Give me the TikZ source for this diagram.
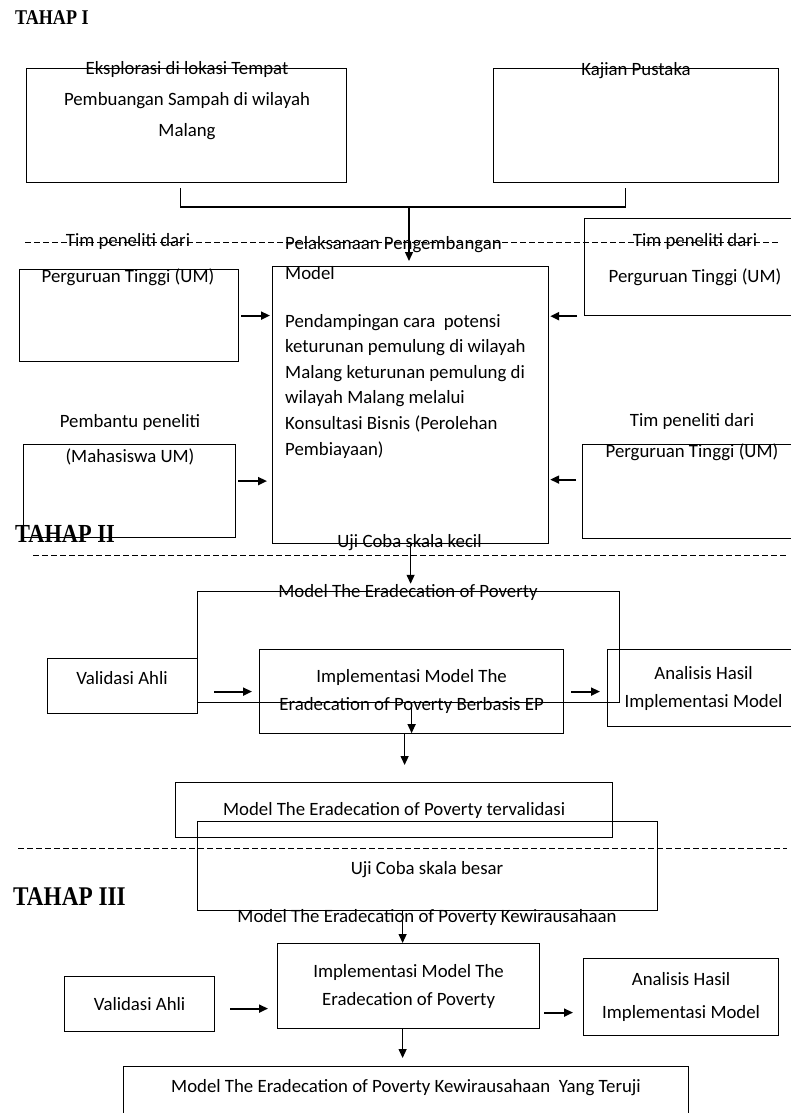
\documentclass[tikz,border=0pt]{standalone}
\usepackage{fontspec}
\usepackage{graphicx}
\setmainfont{Carlito}
\newfontfamily\headfont{Liberation Serif}
\usepackage{tikz}
\usetikzlibrary{arrows.meta,positioning,calc}

\newcommand{\bodyfs}[1]{\fontsize{18.8pt}{#1pt}\selectfont}
\newcommand{\tahap}[2]{\scalebox{0.86}[1]{\headfont\bfseries\fontsize{#1pt}{#1pt}\selectfont #2}}

\begin{document}
\begin{tikzpicture}[
    x=1pt, y=-1pt,
    box/.style={rectangle, draw, line width=1.2pt, inner sep=0pt, anchor=north west, align=center, font=\bodyfs{28}},
    txt/.style={inner sep=0pt, align=center, font=\bodyfs{28}},
    head/.style={inner sep=0pt, anchor=west},
    arrow/.style={-{Triangle[length=9pt,width=8pt]}, line width=1.3pt},
    harrow/.style={arrow, line width=2pt},
    sep/.style={dash pattern=on 6pt off 3pt, line width=1pt}
]
\useasboundingbox (0,0) rectangle (791,1113);
\clip (0,0) rectangle (791,1113);

% Tahap I
\node[head] (tahapi) at (15,18) {\tahap{21}{TAHAP I}};
\node[box, minimum width=320pt, minimum height=114pt] (explo) at (26,68) {};
\node[txt, font=\bodyfs{31}] (explotxt) at (187,101) {Eksplorasi di lokasi Tempat\\Pembuangan Sampah di wilayah\\Malang};
\node[box, minimum width=285pt, minimum height=114pt] (kajian) at (493,68) {};
\node[txt] (kajiantxt) at (636,71) {Kajian Pustaka};

\draw[sep] (25,242) -- (780,242);

\node[box, minimum width=276pt, minimum height=277pt] (central) at (272,266) {};
\node[txt, align=left, anchor=west, font=\bodyfs{30}] (pelaks) at (285,258) {Pelaksanaan Pengembangan\\Model};
\node[txt, align=left, anchor=west, font=\bodyfs{25.6}] (pendamp) at (285,386) {Pendampingan cara~ potensi\\keturunan pemulung di wilayah\\Malang keturunan pemulung di\\wilayah Malang melalui\\Konsultasi Bisnis (Perolehan\\Pembiayaan)};

\node[box, minimum width=219pt, minimum height=92pt] (lbone) at (19,269) {};
\node[txt, font=\bodyfs{36}] (lbonetxt) at (128,260) {Tim peneliti dari\\Perguruan Tinggi (UM)};
\node[box, minimum width=212pt, minimum height=93pt] (lbtwo) at (23,444) {};
\node[txt, font=\bodyfs{35}] (lbtwotxt) at (130,439.5) {Pembantu peneliti\\(Mahasiswa UM)};
\node[box, minimum width=216pt, minimum height=97pt] (rbone) at (584,218) {};
\node[txt, font=\bodyfs{36}] (rbonetxt) at (695,260) {Tim peneliti dari\\Perguruan Tinggi (UM)};
\node[box, minimum width=218pt, minimum height=94pt] (rbtwo) at (582,444) {};
\node[txt, font=\bodyfs{31}] (rbtwotxt) at (692,437.5) {Tim peneliti dari\\Perguruan Tinggi (UM)};

% Connectors of tahap I
\coordinate (join) at (409,207);
\draw[line width=1.2pt] ([xshift=-6pt,yshift=-5pt]explo.south) |- (join) -| ([xshift=-11pt,yshift=-5pt]kajian.south);
\draw[arrow, shorten >=5pt] (join) -- (join |- central.north);
\draw[harrow, shorten <=2pt, shorten >=2pt] (lbone.east) -- (lbone.east -| central.west);
\draw[harrow, shorten <=2pt, shorten >=5pt] ([yshift=10pt]lbtwo.east) -- ([yshift=10pt]lbtwo.east -| central.west);
\draw[harrow, shorten <=7pt, shorten >=1pt] (rbone.south west) -- (rbone.south west -| central.east);
\draw[harrow, shorten <=6pt, shorten >=1pt] ([yshift=12pt]rbtwo.west) -- ([yshift=12pt]rbtwo.west -| central.east);

% Tahap II
\node[head] (tahapii) at (15,534) {\tahap{26}{TAHAP II}};
\node[txt] (ujikecil) at (409.5,543) {Uji Coba skala kecil};
\draw[sep] (33,555) -- (787,555);

\node[box, minimum width=422pt, minimum height=111pt] (frame) at (197,591) {};
\node[txt] (modeltxt) at (408,592) {Model The Eradecation of Poverty};
\node[box, minimum width=150pt, minimum height=55pt] (valtwo) at (47,658) {};
\node[txt] (valtwotxt) at (122,678) {Validasi Ahli};
\node[box, minimum width=304pt, minimum height=84pt] (impltwo) at (259,649) {Implementasi Model The\\Eradecation of Poverty Berbasis EP};
\node[box, minimum width=192pt, minimum height=77pt] (anatwo) at (607,649) {Analisis Hasil\\Implementasi Model};
\node[box, minimum width=437pt, minimum height=55pt] (valid) at (175,782) {Model The Eradecation of Poverty tervalidasi};
\node[box, minimum width=460pt, minimum height=89pt] (besar) at (197,821) {};
\node[txt] (besartxt) at (427,870) {Uji Coba skala besar};

\draw[arrow] (central.south) -- (central.south |- modeltxt.north);
\draw[harrow, shorten <=16pt, shorten >=7pt] (valtwo.east |- impltwo.west) -- (impltwo.west);
\draw[harrow, shorten <=7pt, shorten >=7pt] (impltwo.east) -- (anatwo.west |- impltwo.east);
\draw[arrow, shorten >=1pt] (frame.south -| impltwo.south) -- (impltwo.south);
\draw[arrow, shorten >=17pt] ([xshift=-7pt]impltwo.south) -- ([xshift=-7pt]impltwo.south |- valid.north);

\draw[sep] (18,848) -- (787,848);

% Tahap III
\node[head] (tahapiii) at (13,897) {\tahap{27}{TAHAP III}};
\node[txt] (kewtxt) at (427,917) {Model The Eradecation of Poverty Kewirausahaan};
\node[box, minimum width=262pt, minimum height=85pt] (implthree) at (277,943) {Implementasi Model The\\Eradecation of Poverty};
\node[box, minimum width=150pt, minimum height=55pt] (valthree) at (64,976) {Validasi Ahli};
\node[box, font=\bodyfs{33}, minimum width=195pt, minimum height=77pt] (anathree) at (583,958) {Analisis Hasil\\Implementasi Model};
\node[box, minimum width=565pt, minimum height=80pt] (final) at (123,1066) {};
\node[txt] (finaltxt) at (406,1088) {Model The Eradecation of Poverty Kewirausahaan~ Yang Teruji};

\draw[arrow] ([xshift=-6pt]implthree.north |- besar.south) -- ([xshift=-6pt]implthree.north);
\draw[harrow, shorten <=15pt, shorten >=9pt] ([yshift=-4.5pt]valthree.east) -- ([yshift=-4.5pt]valthree.east -| implthree.west);
\draw[harrow, shorten <=4pt, shorten >=10pt] ([yshift=-15.5pt]anathree.west -| implthree.east) -- ([yshift=-15.5pt]anathree.west);
\draw[arrow, shorten >=8pt] ([xshift=-6pt]implthree.south) -- ([xshift=-6pt]implthree.south |- final.north);

\end{tikzpicture}
\end{document}
